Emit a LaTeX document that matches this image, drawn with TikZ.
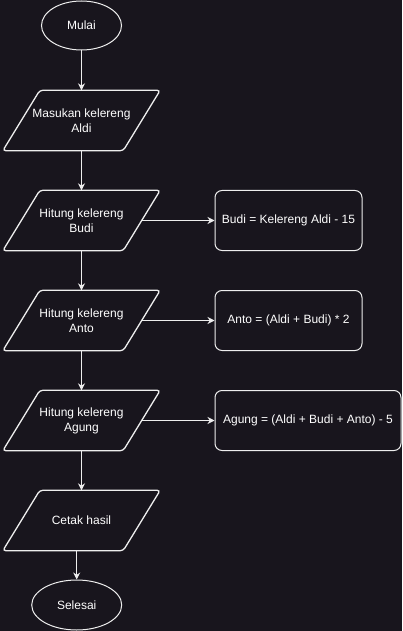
\documentclass[tikz,border=0pt]{standalone}
\usepackage{fontspec}
\setmainfont{Liberation Sans}
\usetikzlibrary{arrows.meta,shapes.geometric}
\definecolor{bgdark}{RGB}{24,21,29}
\definecolor{linegray}{RGB}{238,238,238}

\begin{document}
\begin{tikzpicture}[x=1bp, y=-1bp,
  every node/.style={text=white, font=\fontsize{12bp}{15bp}\selectfont, align=center},
  terminal/.style={ellipse, draw=linegray, line width=1bp, inner sep=0pt,
    minimum width=80bp, minimum height=49bp},
  iobox/.style={rectangle, minimum width=120bp, minimum height=60bp, inner sep=0pt},
  ioshape/.style={draw=linegray, line width=1.3bp, rounded corners=3bp},
  procbox/.style={rectangle, rounded corners=7bp, draw=linegray, line width=1bp,
    minimum width=147bp, minimum height=60bp, inner sep=0pt},
  flow/.style={draw=linegray, line width=1bp, -{Stealth[length=7bp, width=7bp]}}]
  % background
  \fill[bgdark] (0,0) rectangle (402,631);
  \useasboundingbox (0,0) rectangle (402,631);

  % main column
  \node[terminal] (start) at (81.5,25.5) {Mulai};
  \node[iobox] (inAldi) at (81.5,120.5) {Masukan kelereng\\Aldi};
  \node[iobox] (hitBudi) at (81.5,220.5) {Hitung kelereng\\Budi};
  \node[iobox] (hitAnto) at (81.5,320.5) {Hitung kelereng\\Anto};
  \node[iobox] (hitAgung) at (81.5,420.5) {Hitung kelereng\\Agung};
  \node[iobox] (cetak) at (81.5,520.5) {Cetak hasil};
  \node[terminal, minimum width=90bp, minimum height=50bp] (stop) at (76.7,605) {Selesai};

  % slanted input/output outlines
  \foreach \n in {inAldi,hitBudi,hitAnto,hitAgung,cetak}
    \draw[ioshape] ([xshift=-18.5bp]\n.south west) -- ([xshift=18.5bp]\n.north west)
      -- ([xshift=18.5bp]\n.north east) -- ([xshift=-18.5bp]\n.south east) -- cycle;

  % process boxes
  \node[procbox] (budi) at (288.5,220.5) {Budi = Kelereng Aldi - 15};
  \node[procbox] (anto) at (288.5,320.5) {Anto = (Aldi + Budi) * 2};
  \node[procbox, minimum width=186bp] (agung) at (308,420.5) {Agung = (Aldi + Budi + Anto) - 5};

  % connectors
  \draw[flow] (start.south) -- (inAldi.north);
  \draw[flow] (inAldi.south) -- (hitBudi.north);
  \draw[flow] (hitBudi.south) -- (hitAnto.north);
  \draw[flow] (hitAnto.south) -- (hitAgung.north);
  \draw[flow] (hitAgung.south) -- (cetak.north);
  \draw[flow] (stop.north |- cetak.south) -- (stop.north);
  \draw[flow] (hitBudi.east) -- (budi.west);
  \draw[flow] (hitAnto.east) -- (anto.west);
  \draw[flow] (hitAgung.east) -- (agung.west);
\end{tikzpicture}
\end{document}
